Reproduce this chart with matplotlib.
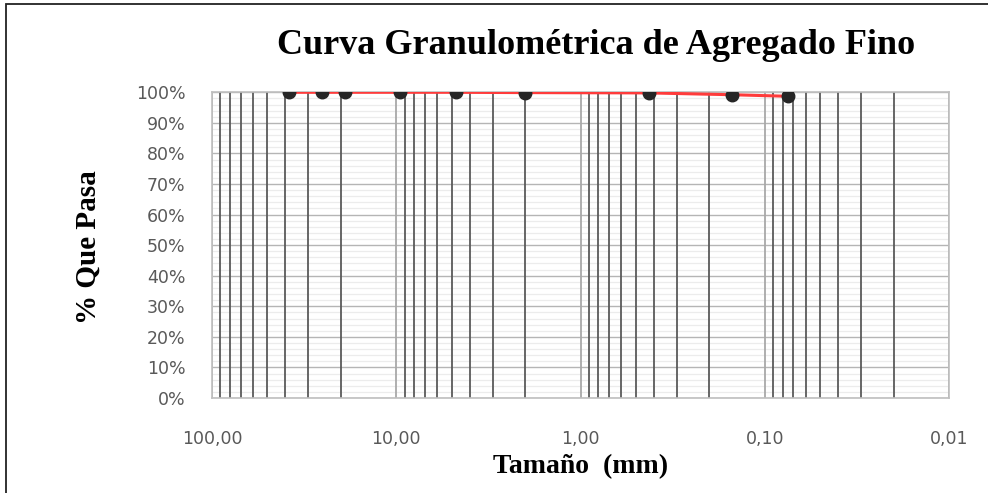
import matplotlib
matplotlib.use("Agg")
import matplotlib.pyplot as plt
from matplotlib.ticker import FixedLocator, FuncFormatter, MultipleLocator
from matplotlib.patches import Rectangle

# Abertura de tamiz (mm) y porcentaje que pasa
tamanos = [38.1, 25.4, 19.05, 9.525, 4.75, 2.00, 0.425, 0.15, 0.075]
pasa = [100.0, 100.0, 100.0, 100.0, 100.0, 99.9, 99.8, 99.2, 98.7]

ticks_x = [100, 10, 1, 0.1, 0.01]
etiquetas_x = ["100,00", "10,00", "1,00", "0,10", "0,01"]
ticks_y = list(range(0, 101, 10))

fig = plt.figure(figsize=(9.88, 4.93), dpi=100)
ax = fig.add_axes([212 / 988, 1 - 398 / 493, (949 - 212) / 988, (398 - 92.3) / 493])

ax.plot(tamanos, pasa, color="#ff3b3b", lw=2.2, zorder=3)
ax.plot(tamanos, pasa, "o", color="#262626", ms=9, zorder=4)

ax.set_xscale("log")
ax.set_xlim(100, 0.01)
ax.set_ylim(0, 100)

# rejilla vertical (minor oscura, mayor clara)
menores = [m * 10.0 ** e for e in range(-2, 2) for m in range(2, 10)]
ax.xaxis.set_major_locator(FixedLocator(ticks_x))
ax.xaxis.set_minor_locator(FixedLocator(menores))
ax.xaxis.set_major_formatter(FuncFormatter(lambda v, p: etiquetas_x[ticks_x.index(v)] if v in ticks_x else ""))
ax.xaxis.set_minor_formatter(FuncFormatter(lambda v, p: ""))
ax.yaxis.set_major_locator(FixedLocator(ticks_y))
ax.yaxis.set_minor_locator(MultipleLocator(2))
ax.yaxis.set_major_formatter(FuncFormatter(lambda v, p: f"{int(v)}%"))

ax.grid(which="minor", axis="x", color="#5a5a5a", lw=1.3)
ax.grid(which="major", axis="x", color="#a8a8a8", lw=1.3)
ax.grid(which="major", axis="y", color="#b5b5b5", lw=1.0)
ax.grid(which="minor", axis="y", color="#ececec", lw=0.9)
ax.set_axisbelow(True)
# las líneas horizontales quedan debajo de las verticales
ax.yaxis.set_zorder(0.3)
ax.xaxis.set_zorder(0.6)

ax.tick_params(which="both", length=0)
ax.tick_params(axis="x", pad=23, labelsize=12.5, labelcolor="#595959")
ax.tick_params(axis="y", pad=19, labelsize=12.5, labelcolor="#595959")
for s in ax.spines.values():
    s.set_color("#bfbfbf")
    s.set_linewidth(1.2)

fig.text(596 / 988, 1 - 45 / 493, "Curva Granulométrica de Agregado Fino",
         family="Liberation Serif", weight="bold", fontsize=26, ha="center", va="center")
fig.text(581 / 988, 1 - 467 / 493, "Tamaño  (mm)",
         family="Liberation Serif", weight="bold", fontsize=20, ha="center", va="center")
fig.text(88 / 988, 1 - 247 / 493, "% Que Pasa", rotation=90,
         family="Liberation Serif", weight="bold", fontsize=21, ha="center", va="center")

# marco exterior
fig.patches.append(Rectangle((6 / 988, -0.05), 1.2, 1 - 4 / 493 + 0.05,
                             transform=fig.transFigure, fill=False, ec="#222222", lw=1.3))

fig.savefig("out.png", dpi=100)
